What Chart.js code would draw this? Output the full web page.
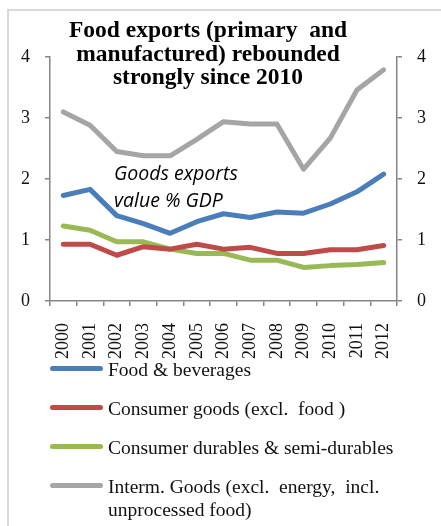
<!DOCTYPE html>
<html>
<head>
<meta charset="utf-8">
<script src="https://cdn.jsdelivr.net/npm/chart.js@4.4.0/dist/chart.umd.min.js"></script>
<style>
  html, body { margin: 0; padding: 0; background: #fff; }
  #wrap { position: relative; width: 441px; height: 526px; overflow: hidden; }
  #frame { position: absolute; left: 7px; top: 9px; width: 460px; height: 540px;
           border-left: 2px solid #d9d9d9; border-top: 2px solid #d9d9d9; }
  #exportsChart { position: absolute; left: 0; top: 0; }
  .lg-row { position: absolute; left: 50px; width: 380px; height: 30px; }
  .lg-line { position: absolute; left: 0; top: 8px; width: 53px; height: 5px; border-radius: 3px; }
  .lg-text { position: absolute; left: 58px; top: 0; width: 300px; white-space: pre-wrap;
             font: 19.5px "Liberation Serif", serif; line-height: 23px; color: #111; }
</style>
</head>
<body>
<div id="wrap">
  <div id="frame"></div>
  <canvas id="exportsChart" width="441" height="526"></canvas>
  <div id="legend"></div>
</div>
<script>
// Goods exports, value in % of GDP
const years = ['2000', '2001', '2002', '2003', '2004', '2005', '2006', '2007', '2008', '2009', '2010', '2011', '2012'];
const foodBeverages = [1.73, 1.83, 1.40, 1.27, 1.11, 1.30, 1.43, 1.37, 1.46, 1.44, 1.59, 1.79, 2.08];
const consumerGoods = [0.93, 0.93, 0.75, 0.89, 0.85, 0.93, 0.85, 0.88, 0.78, 0.78, 0.84, 0.84, 0.91];
const consumerDurables = [1.23, 1.16, 0.97, 0.97, 0.85, 0.78, 0.78, 0.67, 0.67, 0.55, 0.58, 0.60, 0.63];
const intermGoods = [3.10, 2.88, 2.45, 2.38, 2.38, 2.65, 2.94, 2.90, 2.90, 2.16, 2.67, 3.46, 3.79];
const yTicks = [0, 1, 2, 3, 4];

const titleLines = ['Food exports (primary  and', 'manufactured) rebounded', 'strongly since 2010'];
const noteLines = ['Goods exports', 'value % GDP'];

const axisGray = '#868686';
const serif = '"Liberation Serif", "Times New Roman", serif';

// title and the italic note are drawn on top of the plot area
const overlayText = {
    id: 'overlayText',
    afterDraw(chart) {
        const c = chart.ctx;
        c.save();
        c.fillStyle = '#000';
        c.textAlign = 'center';
        c.textBaseline = 'alphabetic';
        c.font = 'bold 23.5px ' + serif;
        titleLines.forEach((t, i) => c.fillText(t, 208, 37 + i * 23.5));
        c.textAlign = 'left';
        c.font = 'italic 19.5px "Open Sans", sans-serif';
        noteLines.forEach((t, i) => c.fillText(t, 114, 180 + i * 27));
        c.restore();
    }
};

function series(label, data, color) {
    return {
        label: label,
        data: data,
        borderColor: color,
        backgroundColor: color,
        borderWidth: 5,
        pointRadius: 0,
        tension: 0,
        borderJoinStyle: 'round',
        borderCapStyle: 'round',
        yAxisID: 'y'
    };
}

const axisY = (side) => ({
    position: side,
    min: 0,
    max: 4,
    afterBuildTicks: (s) => { s.ticks = yTicks.map(v => ({ value: v })); },
    afterFit: (s) => { s.width = side === 'left' ? 50 : 44; },
    border: { color: axisGray, width: 1.5 },
    grid: { drawOnChartArea: false, drawTicks: true, tickLength: 5, color: axisGray, lineWidth: 1.5 },
    ticks: { color: '#111', padding: 15, font: { family: serif, size: 18 } }
});

document.addEventListener('DOMContentLoaded', () => {
    const ctx = document.getElementById('exportsChart').getContext('2d');
    const exportsChart = new Chart(ctx, {
        type: 'line',
        data: {
            labels: years,
            datasets: [
                series('Food & beverages', foodBeverages, '#4A7EBB'),
                series('Consumer goods (excl.  food )', consumerGoods, '#BE4B48'),
                series('Consumer durables & semi-durables', consumerDurables, '#98B954'),
                series('Interm. Goods (excl.  energy,  incl. unprocessed food)', intermGoods, '#A5A5A5')
            ]
        },
        options: {
            responsive: false,
            animation: false,
            layout: { padding: { top: 57, left: 0, right: 0, bottom: 155 } },
            plugins: {
                legend: { display: false },
                title: { display: false },
                tooltip: { enabled: false }
            },
            scales: {
                x: {
                    offset: true,
                    afterFit: (s) => { s.height = 70; },
                    border: { color: axisGray, width: 1.5 },
                    grid: { offset: true, drawOnChartArea: false, drawTicks: true, tickLength: 5, color: axisGray, lineWidth: 1.5 },
                    ticks: { color: '#111', padding: 17, minRotation: 90, maxRotation: 90, autoSkip: false,
                             font: { family: serif, size: 18 } }
                },
                y: axisY('left'),
                y1: axisY('right')
            }
        },
        plugins: [overlayText]
    });

    // legend below the chart, one row per series
    const legend = document.getElementById('legend');
    const rowTops = [358, 397, 436, 475];
    exportsChart.data.datasets.forEach((ds, i) => {
        const row = document.createElement('div');
        row.className = 'lg-row';
        row.style.top = rowTops[i] + 'px';
        const line = document.createElement('span');
        line.className = 'lg-line';
        line.style.background = ds.borderColor;
        const text = document.createElement('span');
        text.className = 'lg-text';
        text.textContent = ds.label;
        row.appendChild(line);
        row.appendChild(text);
        legend.appendChild(row);
    });
});
</script>
</body>
</html>
